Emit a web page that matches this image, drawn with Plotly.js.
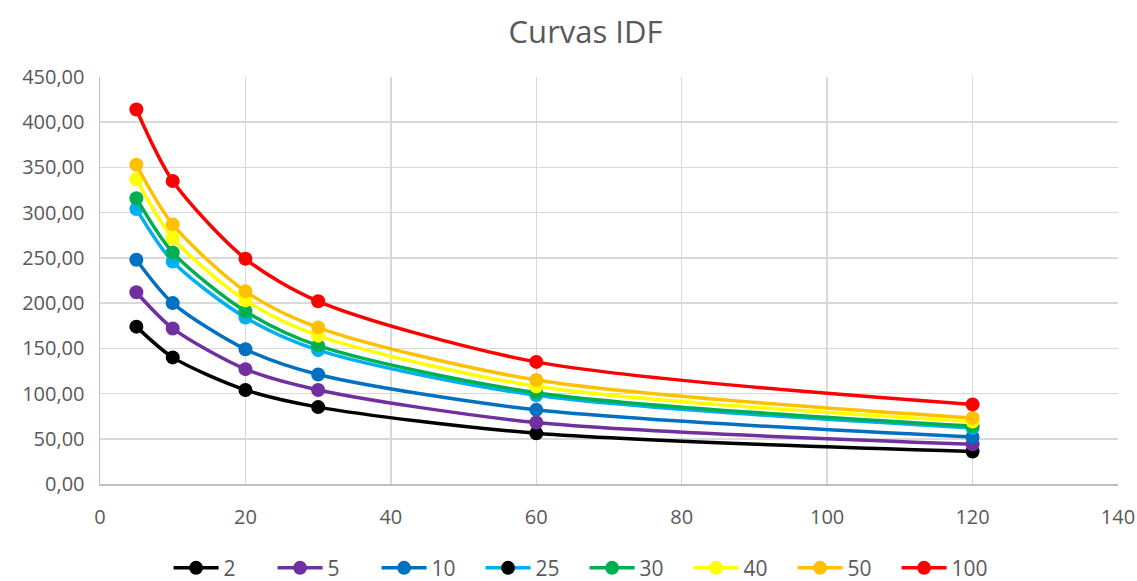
<!DOCTYPE html>
<html>
<head>
<meta charset="utf-8">
<script src="https://cdn.plot.ly/plotly-3.0.1.min.js"></script>
<style>html,body{margin:0;padding:0;background:#fff;}#chart{width:1137px;height:581px;}</style>
</head>
<body>
<div id="chart"></div>
<script>
// Duration (min)
const durations = [5, 10, 20, 30, 60, 120];
// Return periods (years)
const seriesNames = ['2', '5', '10', '25', '30', '40', '50', '100'];
const seriesColors = ['#000000', '#7030A0', '#0070C0', '#00B0F0', '#00B050', '#FFFF00', '#FFC000', '#FF0000'];
// Intensity (mm/h)
const t2   = [174, 140, 104, 85, 56, 36];
const t5   = [212, 172, 127, 104, 68, 44];
const t10  = [248, 200, 149, 121, 82, 52];
const t25  = [304, 246, 184, 148, 98, 62];
const t30  = [316, 256, 191, 153, 101, 64];
const t40  = [337, 272, 203, 164, 108, 69];
const t50  = [353, 287, 213, 173, 115, 73];
const t100 = [414, 335, 249, 202, 135, 88];
const allSeries = [t2, t5, t10, t25, t30, t40, t50, t100];

const traces = [];
allSeries.forEach((vals, i) => {
  const isT25 = seriesNames[i] === '25';
  traces.push({
    type: 'scatter', mode: 'lines+markers',
    x: durations, y: vals, name: seriesNames[i],
    showlegend: !isT25,
    line: {color: seriesColors[i], width: 3.5, shape: 'spline', smoothing: 0.8},
    marker: {color: seriesColors[i], size: 14},
    hoverinfo: 'x+y+name'
  });
  if (isT25) {
    // legend entry as shown in the original (black marker, cyan line)
    traces.push({
      type: 'scatter', mode: 'lines+markers',
      x: [null], y: [null], name: seriesNames[i],
      line: {color: seriesColors[i], width: 3.5},
      marker: {color: '#000000', size: 14}
    });
  }
});

const layout = {
  width: 1137, height: 581,
  paper_bgcolor: '#ffffff', plot_bgcolor: '#ffffff',
  margin: {l: 100, r: 19, t: 77, b: 97},
  separators: ',.',
  font: {family: 'Open Sans, Liberation Sans, sans-serif', color: '#595959', size: 19},
  title: {text: 'Curvas IDF', x: 0.515, xanchor: 'center', y: 0.945, yanchor: 'middle',
          font: {size: 31, color: '#595959', family: 'Open Sans, Liberation Sans, sans-serif'}},
  xaxis: {range: [0, 140], dtick: 20, tick0: 0, showgrid: true, gridcolor: '#d9d9d9', gridwidth: 1.5,
          zeroline: false, showline: true, linecolor: '#bfbfbf', linewidth: 1.5, ticks: '',
          ticklabelstandoff: 14,
          tickfont: {size: 20, color: '#595959'}, mirror: false},
  yaxis: {range: [0, 450], dtick: 50, tick0: 0, tickformat: '.2f', showgrid: true, gridcolor: '#d9d9d9', gridwidth: 1.5,
          zeroline: false, showline: true, linecolor: '#bfbfbf', linewidth: 1.5, ticks: '',
          ticklabelstandoff: 10,
          tickfont: {size: 20, color: '#595959'}},
  showlegend: true,
  legend: {orientation: 'h', x: 0.476, xanchor: 'center', y: 0.022, yref: 'container', yanchor: 'middle',
           font: {size: 21, color: '#595959'}, itemwidth: 45, entrywidth: 44, entrywidthmode: 'pixels',
           tracegroupgap: 0}
};

Plotly.newPlot('chart', traces, layout, {displayModeBar: false, staticPlot: true});
</script>
</body>
</html>
